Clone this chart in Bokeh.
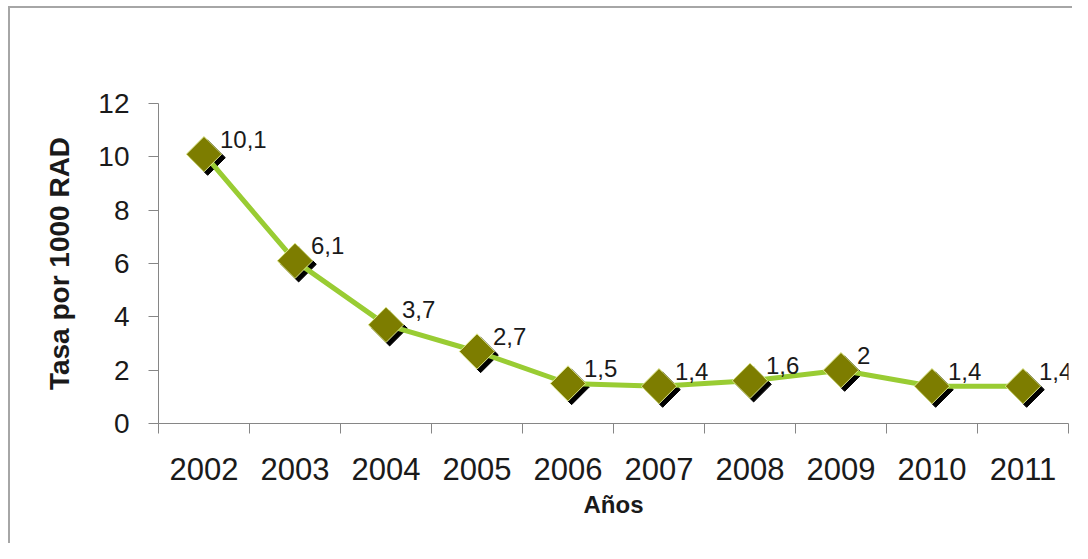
from bokeh.plotting import figure
from bokeh.models import ColumnDataSource, FixedTicker, LabelSet
from bokeh.core.properties import value
from bokeh.transform import dodge
from bokeh.embed import file_html
from bokeh.resources import INLINE
import math

# ---- data ----
years = [2002, 2003, 2004, 2005, 2006, 2007, 2008, 2009, 2010, 2011]
rates = [10.1, 6.1, 3.7, 2.7, 1.5, 1.4, 1.6, 2.0, 1.4, 1.4]
y_ticks = [0, 2, 4, 6, 8, 10, 12]
x_title = "Años"
y_title = "Tasa por 1000 RAD"

rate_labels = [f"{r:g}".replace(".", ",") for r in rates]
src = ColumnDataSource(data=dict(x=years, y=rates, lab=rate_labels))

FONT = "Liberation Sans"
GRAY = "#a6a6a6"

p = figure(width=1072, height=543, output_backend="svg", toolbar_location=None,
           x_range=(years[0] - 0.5, years[-1] + 0.5), y_range=(y_ticks[0], y_ticks[-1]),
           min_border_left=158, min_border_right=4, min_border_top=103, min_border_bottom=120)
# outer chart-area border (top and left edges visible), drawn as background
p.styles = {
    "background": (f"linear-gradient({GRAY},{GRAY}) 8px 6px / 2px 100% no-repeat, "
                   f"linear-gradient({GRAY},{GRAY}) 8px 6px / 100% 2px no-repeat, white"),
}
p.outline_line_color = None
p.xgrid.visible = False
p.ygrid.visible = False
p.background_fill_color = None
p.border_fill_color = None

# x axis: labels centered on years, tick marks between categories
xa = p.xaxis[0]
xa.ticker = FixedTicker(ticks=years,
                        minor_ticks=[y - 0.5 for y in years] + [years[-1] + 0.5])
xa.major_tick_out = 0
xa.major_tick_in = 0
xa.minor_tick_out = 10
xa.minor_tick_in = 0
xa.minor_tick_line_color = "#868686"
xa.axis_line_color = "#868686"
xa.major_label_standoff = 24
xa.major_label_text_font = FONT
xa.major_label_text_font_size = "31px"
xa.major_label_text_color = "#1a1a1a"
xa.axis_label = x_title
xa.axis_label_text_font = FONT
xa.axis_label_text_font_style = "bold"
xa.axis_label_text_font_size = "24px"
xa.axis_label_text_color = "#1a1a1a"
xa.axis_label_standoff = 8

ya = p.yaxis[0]
ya.ticker = FixedTicker(ticks=y_ticks)
ya.major_tick_out = 10
ya.major_tick_in = 0
ya.minor_tick_out = 0
ya.minor_tick_in = 0
ya.major_tick_line_color = "#868686"
ya.axis_line_color = "#868686"
ya.major_label_standoff = 19
ya.major_label_text_font = FONT
ya.major_label_text_font_size = "28px"
ya.major_label_text_color = "#1a1a1a"
ya.axis_label = y_title
ya.axis_label_text_font = FONT
ya.axis_label_text_font_style = "bold"
ya.axis_label_text_font_size = "28px"
ya.axis_label_text_color = "#1a1a1a"
ya.axis_label_standoff = 20

# shadow of markers
p.scatter(x=dodge("x", 0.04), y=dodge("y", -0.13), source=src, marker="square",
          size=25, angle=math.pi / 4, fill_color="black", line_color="black")
# line
p.line(x="x", y="y", source=src, line_color="#99cc33", line_width=5)
# markers
p.scatter(x="x", y="y", source=src, marker="square", size=25, angle=math.pi / 4,
          fill_color="#7d7d00", line_color="#dfe98f", line_width=1)

labels = LabelSet(x="x", y="y", text="lab", source=src, x_offset=16, y_offset=15,
                  text_align="left", text_baseline="middle",
                  text_font=value(FONT), text_font_size="24px", text_color="#1a1a1a")
p.add_layout(labels)

open("out.html", "w").write(file_html(p, INLINE))
